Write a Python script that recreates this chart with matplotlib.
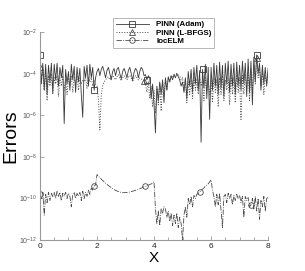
import numpy as np
import matplotlib
matplotlib.use("Agg")
import matplotlib.pyplot as plt
from matplotlib.ticker import FixedLocator, MultipleLocator, LogFormatterSciNotation

plt.rcParams['font.family'] = ['Liberation Sans', 'DejaVu Sans']
plt.rcParams['mathtext.fontset'] = 'custom'
plt.rcParams['mathtext.rm'] = 'Liberation Sans'

# ----------------------------------------------------------------------------
# data (log10 of the error, x = 0, 0.05, ..., 8)

x = np.linspace(0, 8, 161)

adam_log = [
   -3.1, -4.5, -3.5, -4.8, -3.55, -5.0, -3.6, -4.4, -3.5, -4.9,
   -3.55, -4.3, -3.5, -4.6, -3.7, -4.2, -3.6, -6.4, -3.8, -4.5,
   -3.9, -4.8, -3.55, -4.3, -3.65, -4.9, -3.7, -4.4, -3.75, -5.0,
   -6.1, -3.65, -4.2, -3.6, -4.6, -3.55, -4.2, -3.7, -4.8, -4.2,
   -3.9, -3.75, -4.1, -3.8, -3.65, -3.9, -4.2, -3.85, -3.7, -4.0,
   -4.3, -3.9, -3.75, -4.1, -3.8, -3.7, -4.0, -4.25, -3.9, -3.75,
   -3.95, -4.2, -3.85, -3.7, -4.0, -4.3, -3.95, -3.75, -3.85, -4.2,
   -3.9, -3.7, -3.8, -4.1, -4.05, -4.3, -4.1, -4.2, -5.2, -4.5,
   -5.5, -6.85, -4.6, -5.3, -4.4, -5.0, -4.3, -5.4, -4.2, -4.8,
   -4.15, -4.4, -4.1, -4.3, -4.05, -4.2, -4.0, -4.15, -4.3, -4.6,
   -4.4, -4.9, -4.2, -5.2, -3.9, -4.6, -3.8, -4.9, -3.7, -4.5,
   -3.6, -4.8, -3.85, -7.3, -3.8, -4.7, -3.55, -5.2, -3.7, -6.2,
   -3.7, -4.8, -3.5, -4.6, -3.6, -5.0, -3.45, -4.7, -3.6, -5.1,
   -3.5, -4.5, -3.4, -4.9, -3.55, -4.6, -3.5, -5.0, -3.45, -4.6,
   -3.6, -4.8, -3.4, -4.5, -3.5, -5.1, -3.3, -4.9, -3.4, -5.5,
   -3.2, -4.4, -3.1, -4.0, -3.5, -4.8, -3.6, -4.5, -3.7, -4.6,
   -3.75,
]

lbfgs_log = [
   -3.7, -4.2, -3.9, -4.8, -4.0, -5.3, -4.1, -4.6, -4.0, -5.0,
   -4.2, -4.5, -4.1, -5.1, -4.2, -4.6, -4.1, -4.8, -4.3, -5.0,
   -4.2, -4.6, -4.1, -4.9, -4.2, -4.5, -4.1, -4.8, -4.2, -4.5,
   -4.3, -4.4, -4.2, -4.7, -4.15, -4.4, -4.2, -4.6, -4.3, -4.5,
   -4.6, -5.2, -6.7, -5.0, -4.6, -4.4, -4.3, -4.2, -4.15, -4.3,
   -4.2, -4.1, -4.2, -4.3, -4.15, -4.05, -4.2, -4.35, -4.2, -4.1,
   -4.2, -4.3, -4.15, -4.1, -4.2, -4.4, -4.2, -4.1, -4.2, -4.3,
   -4.2, -4.25, -4.3, -4.35, -4.5, -4.9, -4.4, -5.2, -4.6, -5.6,
   -4.8, -5.9, -4.7, -5.5, -4.5, -5.8, -4.4, -5.0, -4.3, -4.8,
   -4.2, -4.4, -4.1, -4.2, -4.05, -4.0, -4.0, -4.05, -4.1, -4.3,
   -4.2, -4.8, -4.3, -5.4, -4.4, -5.0, -4.3, -5.2, -4.2, -4.8,
   -4.3, -5.0, -4.2, -4.6, -4.3, -5.3, -4.2, -4.8, -4.4, -5.0,
   -4.3, -5.4, -4.2, -4.9, -4.3, -5.6, -4.2, -5.0, -4.1, -5.3,
   -4.3, -4.8, -4.2, -5.5, -4.1, -5.0, -4.2, -5.4, -4.0, -4.9,
   -4.2, -6.2, -4.1, -5.0, -4.0, -4.7, -3.9, -5.3, -3.8, -4.8,
   -3.6, -4.5, -3.25, -4.2, -3.7, -4.6, -3.9, -5.0, -4.1, -4.5,
   -3.9,
]

locelm_log = [
   -9.8, -10.0, -9.7, -10.8, -9.8, -10.2, -9.7, -10.1, -9.75, -9.9,
   -9.7, -10.0, -9.65, -9.9, -9.7, -10.1, -9.75, -9.9, -9.7, -10.0,
   -9.75, -9.9, -10.4, -9.8, -9.7, -10.0, -9.75, -9.9, -9.7, -10.1,
   -9.65, -10.0, -9.7, -9.9, -9.6, -9.8, -9.5, -9.6, -9.4, -9.35,
   -8.85, -8.93, -9.0, -9.07, -9.14, -9.2, -9.26, -9.32, -9.38, -9.43,
   -9.48, -9.53, -9.57, -9.61, -9.64, -9.67, -9.69, -9.71, -9.72, -9.72,
   -9.72, -9.71, -9.70, -9.69, -9.67, -9.65, -9.63, -9.61, -9.58, -9.56,
   -9.53, -9.5, -9.47, -9.44, -9.42, -9.39, -9.36, -9.33, -9.3, -9.27,
   -9.2, -10.5, -11.2, -10.6, -11.3, -10.5, -10.7, -10.4, -10.5, -10.9,
   -10.6, -11.1, -10.7, -11.3, -10.8, -11.2, -10.7, -11.4, -10.9, -11.2,
   -12.0, -10.8, -10.4, -10.9, -10.0, -10.3, -9.9, -10.4, -9.85, -10.0,
   -9.8, -9.75, -9.7, -9.6, -9.55, -9.5, -9.4, -9.35, -9.3, -9.2,
   -9.1, -9.6, -9.9, -10.4, -9.8, -10.3, -9.75, -10.6, -11.4, -9.9,
   -9.8, -10.2, -9.75, -10.0, -9.8, -10.3, -9.85, -10.1, -9.8, -10.0,
   -9.85, -10.2, -9.9, -10.9, -9.9, -10.1, -9.95, -10.4, -10.3, -10.0,
   -10.5, -9.9, -10.6, -10.0, -11.0, -10.1, -10.4, -9.9, -10.6, -10.0,
   -9.95,
]

labels = ['PINN (Adam)', 'PINN (L-BFGS)', 'locELM']
yticks = [1e-12, 1e-10, 1e-8, 1e-6, 1e-4, 1e-2]
xticks = [0, 2, 4, 6, 8]

# ----------------------------------------------------------------------------

fig = plt.figure(figsize=(3.05, 2.71), dpi=100)
ax = fig.add_axes([0.131, 0.114, 0.748, 0.768])

mk = dict(markersize=4, markerfacecolor='none', markeredgewidth=0.6)
ax.semilogy(x, 10.0**np.array(adam_log), '-', c='#3a3a3a', lw=0.6,
            marker='s', markevery=[0, 38, 75, 114, 152], label=labels[0], **mk)
ax.semilogy(x, 10.0**np.array(lbfgs_log), ':', c='#4a4a4a', lw=0.7,
            marker='^', markevery=[0, 73, 152], label=labels[1], **mk)
ax.semilogy(x, 10.0**np.array(locelm_log), '-.', c='#4a4a4a', lw=0.6,
            marker='o', markevery=[0, 38, 74, 112, 148], label=labels[2], **mk)

ax.set_xlim(0, 8)
ax.set_ylim(1e-12, 1e-2)
ax.xaxis.set_major_locator(FixedLocator(xticks))
ax.xaxis.set_minor_locator(MultipleLocator(0.5))
ax.yaxis.set_major_locator(FixedLocator(yticks))
ax.yaxis.set_major_formatter(LogFormatterSciNotation())
ax.yaxis.set_minor_locator(FixedLocator([]))

for s in ['top', 'right']:
   ax.spines[s].set_visible(False)
for s in ['left', 'bottom']:
   ax.spines[s].set_color('#999999')
   ax.spines[s].set_linewidth(0.8)
ax.tick_params(which='both', direction='in', color='#999999', width=0.6)
ax.tick_params(which='major', length=3)
ax.tick_params(which='minor', length=2)
ax.tick_params(axis='x', labelsize=6, pad=2, labelcolor='#222222')
ax.tick_params(axis='y', labelsize=5, pad=2, labelcolor='#555555')

ax.set_xlabel('X', fontsize=11, labelpad=1)
ax.set_ylabel('Errors', fontsize=14, labelpad=0)

leg = ax.legend(loc='upper left', bbox_to_anchor=(113/305, 1 - 18/271),
                bbox_transform=fig.transFigure,
                prop={'weight': 'bold', 'size': 5.7},
                handlelength=4.2, labelspacing=0.1, borderpad=0.35,
                fancybox=False, handletextpad=0.9, borderaxespad=0)
leg.get_frame().set_edgecolor('#999999')
leg.get_frame().set_linewidth(0.6)

fig.savefig('out.png', dpi=100)
